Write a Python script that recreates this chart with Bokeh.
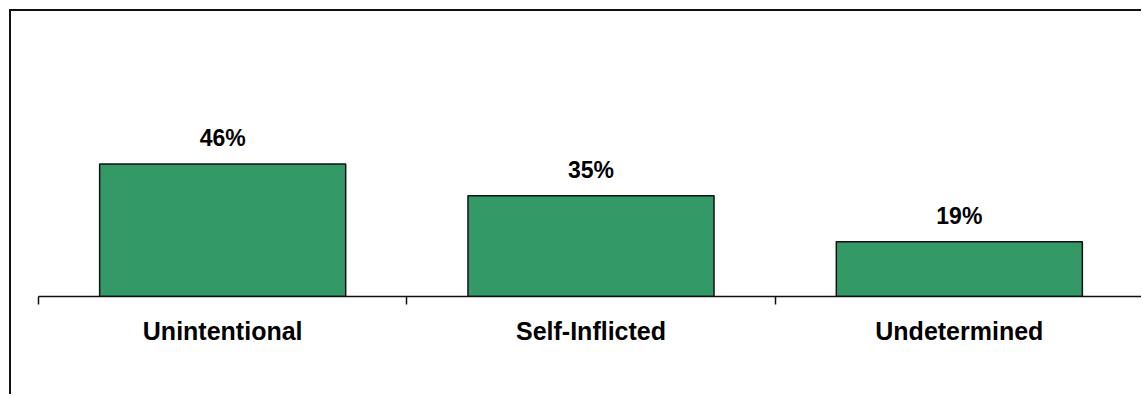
from bokeh.plotting import figure
from bokeh.models import ColumnDataSource, Range1d, FixedTicker, LabelSet
from bokeh.core.properties import value
from bokeh.embed import file_html
from bokeh.resources import INLINE

categories = ["Unintentional", "Self-Inflicted", "Undetermined"]
values = [46, 35, 19]
value_labels = ["46%", "35%", "19%"]

x_pos = [i + 0.5 for i in range(len(categories))]
src = ColumnDataSource(dict(x=x_pos, top=values, label=value_labels))

p = figure(width=1132, height=385, output_backend="svg", toolbar_location=None,
           x_range=Range1d(0, len(categories)), y_range=Range1d(0, 98.96),
           y_axis_location=None, min_border_left=27, min_border_right=0,
           min_border_top=0, min_border_bottom=100)
p.styles = {"margin-left": "9px", "margin-top": "9px",
            "border-left": "2px solid #111111", "border-top": "2px solid #111111"}
p.outline_line_color = None
p.xgrid.visible = False
p.ygrid.visible = False
p.background_fill_color = "white"
p.border_fill_color = "white"

p.vbar(x="x", top="top", bottom=0, width=0.668, source=src,
       fill_color="#339966", line_color="#111111", line_width=1.5)

labels = LabelSet(x="x", y="top", text="label", source=src, y_offset=18,
                  text_align="center", text_baseline="alphabetic",
                  text_font=value("Liberation Sans"), text_font_style="bold",
                  text_font_size="23px", text_color="black")
p.add_layout(labels)

ax = p.xaxis[0]
ax.ticker = FixedTicker(ticks=x_pos, minor_ticks=list(range(len(categories) + 1)))
ax.major_label_overrides = {x: c for x, c in zip(x_pos, categories)}
ax.major_tick_line_color = None
ax.major_tick_out = 8
ax.major_tick_in = 0
ax.minor_tick_line_color = "#111111"
ax.minor_tick_line_width = 1.5
ax.minor_tick_out = 8
ax.minor_tick_in = 0
ax.axis_line_color = "#111111"
ax.axis_line_width = 1.5
ax.major_label_standoff = 12
ax.major_label_text_font = "Liberation Sans"
ax.major_label_text_font_style = "bold"
ax.major_label_text_font_size = "25px"
ax.major_label_text_color = "black"

open("out.html", "w").write(file_html(p, INLINE))
